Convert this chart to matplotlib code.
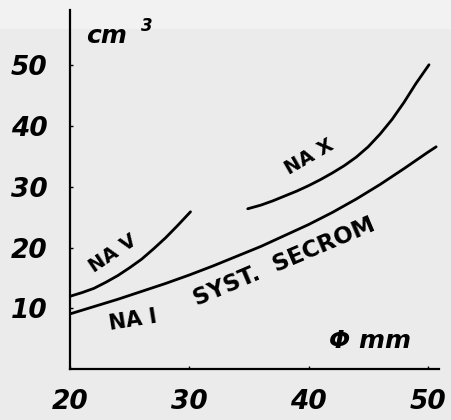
import numpy as np
import matplotlib.pyplot as plt
from matplotlib.patches import Rectangle

# valeurs (diametre en mm, volume en cm3)
x_na1 = [20.0, 22.0, 24.0, 26.0, 28.0, 30.0, 32.0, 34.0, 36.0, 38.0, 40.0, 42.0, 44.0, 46.0, 48.0, 50.0, 50.7]
y_na1 = [9.1, 10.3, 11.5, 12.8, 14.1, 15.5, 17.0, 18.6, 20.2, 22.0, 23.8, 25.8, 28.0, 30.4, 33.0, 35.7, 36.6]

x_na5 = [20.0, 21.0, 22.0, 23.0, 24.0, 25.0, 26.0, 27.0, 28.0, 29.0, 30.1]
y_na5 = [12.0, 12.6, 13.3, 14.3, 15.4, 16.7, 18.1, 19.8, 21.6, 23.6, 25.9]

x_na10 = [34.9, 36.0, 37.0, 38.0, 39.0, 40.0, 41.0, 42.0, 43.0, 44.0, 45.0, 46.0, 47.0, 48.0, 49.0, 50.1]
y_na10 = [26.4, 27.0, 27.7, 28.5, 29.3, 30.2, 31.2, 32.3, 33.5, 34.9, 36.6, 38.7, 41.1, 43.9, 47.0, 50.1]

xticks = [20, 30, 40, 50]
yticks = [10, 20, 30, 40, 50]

bg = '#ebebeb'
fig = plt.figure(figsize=(4.52, 4.20), dpi=100, facecolor=bg)
# bande plus claire en haut du scan
band = Rectangle((0, 0.93), 1, 0.07, transform=fig.transFigure,
                 facecolor='#f2f2f2', edgecolor='none', zorder=-5)
fig.add_artist(band)
ax = fig.add_axes([0.155, 0.121, 0.816, 0.855])
ax.patch.set_alpha(0)

for xs, ys in [(x_na1, y_na1), (x_na5, y_na5), (x_na10, y_na10)]:
    ax.plot(xs, ys, color='black', lw=2.0, solid_capstyle='round')

ax.set_xlim(20, 50.93)
ax.set_ylim(0, 59.1)
for s in ['top', 'right']:
    ax.spines[s].set_visible(False)
for s in ['left', 'bottom']:
    ax.spines[s].set_linewidth(1.6)

tick_font = dict(fontsize=19, fontweight='bold', fontstyle='italic')
ax.set_xticks(xticks)
ax.set_xticklabels([str(v) for v in xticks], **tick_font)
ax.set_yticks(yticks)
ax.set_yticklabels([str(v) for v in yticks], **tick_font)
ax.tick_params(axis='both', direction='in', length=2, width=1)
ax.tick_params(axis='x', pad=14)
ax.tick_params(axis='y', pad=16)

# unites
ax.text(23.06, 54.8, 'cm', fontsize=18, fontweight='bold', fontstyle='italic', ha='center', va='center')
ax.text(26.45, 56.4, '3', fontsize=12, fontweight='bold', fontstyle='italic', ha='center', va='center')
ax.text(45.15, 4.6, '\u03a6 mm', fontsize=18, fontweight='bold', fontstyle='italic',
        ha='center', va='center')

# noms des courbes
lab = dict(fontsize=14, fontweight='bold', color='black', ha='center', va='center')
ax.text(23.6, 19.1, 'NA V', rotation=34, **lab)
ax.text(40.1, 34.9, 'NA X', rotation=30, **lab)
ax.text(25.3, 8.1, 'NA I', rotation=9, fontsize=15, fontweight='bold', ha='center', va='center')
ax.text(38.0, 17.6, 'SYST.  SECROM', rotation=23, fontsize=16.5, fontweight='bold',
        ha='center', va='center')

plt.savefig('out.png', dpi=100, facecolor=bg)
